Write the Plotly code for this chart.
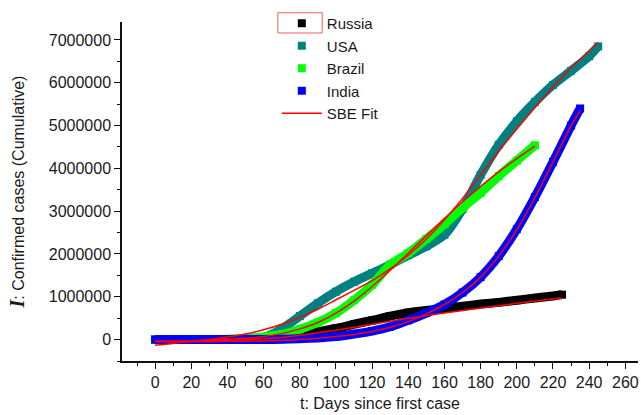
import numpy as np
import plotly.graph_objects as go

# ---- data (values in millions of cases) ----
days_russia = [0, 10, 20, 30, 40, 50, 60, 70, 80, 90, 100, 110, 120, 130, 140, 150, 160, 170, 180, 190, 200, 210, 220, 225]
russia = [0, 0, 0, 0, 0, 0, 0.01, 0.03, 0.10, 0.18, 0.26, 0.36, 0.45, 0.55, 0.63, 0.68, 0.73, 0.78, 0.83, 0.87, 0.92, 0.97, 1.02, 1.05]

days_usa = [0, 10, 20, 30, 40, 50, 60, 70, 80, 90, 100, 110, 120, 130, 140, 150, 160, 170, 180, 190, 200, 210, 220, 230, 240, 245]
usa = [0, 0, 0, 0, 0, 0.01, 0.05, 0.25, 0.55, 0.85, 1.12, 1.35, 1.55, 1.75, 1.97, 2.18, 2.45, 3.05, 3.85, 4.55, 5.10, 5.55, 5.95, 6.28, 6.62, 6.85]

days_brazil = [0, 10, 20, 30, 40, 50, 60, 70, 80, 90, 100, 110, 120, 130, 140, 150, 160, 170, 180, 190, 200, 210]
brazil = [0, 0, 0, 0, 0.01, 0.03, 0.06, 0.12, 0.24, 0.40, 0.62, 0.92, 1.28, 1.75, 2.02, 2.35, 2.70, 3.08, 3.43, 3.82, 4.18, 4.54]

days_india = [0, 10, 20, 30, 40, 50, 60, 70, 80, 90, 100, 110, 120, 130, 140, 150, 160, 170, 180, 190, 200, 210, 220, 230, 235]
india = [0, 0, 0, 0, 0, 0, 0, 0.01, 0.02, 0.04, 0.07, 0.13, 0.20, 0.30, 0.45, 0.62, 0.82, 1.10, 1.46, 1.95, 2.58, 3.33, 4.15, 5.00, 5.40]

# SBE fits
fit_russia = [-0.04, -0.04, -0.04, -0.03, -0.02, 0, 0.02, 0.05, 0.10, 0.16, 0.22, 0.29, 0.36, 0.43, 0.50, 0.56, 0.62, 0.68, 0.74, 0.79, 0.85, 0.90, 0.95, 0.97]
fit_usa = [-0.13, -0.09, -0.04, 0.0, 0.06, 0.13, 0.23, 0.36, 0.52, 0.71, 0.93, 1.15, 1.38, 1.65, 1.97, 2.35, 2.80, 3.30, 3.85, 4.40, 4.92, 5.42, 5.90, 6.35, 6.75, 6.94]
fit_brazil = [-0.04, -0.04, -0.03, -0.01, 0.01, 0.03, 0.07, 0.14, 0.25, 0.40, 0.62, 0.90, 1.24, 1.62, 2.02, 2.43, 2.83, 3.22, 3.58, 3.92, 4.23, 4.52]
fit_india = [-0.05, -0.05, -0.05, -0.05, -0.04, -0.04, -0.03, -0.02, 0.0, 0.03, 0.07, 0.12, 0.19, 0.29, 0.42, 0.60, 0.82, 1.10, 1.46, 1.95, 2.57, 3.32, 4.15, 5.00, 5.35]

x_ticks = list(range(0, 261, 20))
y_ticks = [0, 1000000, 2000000, 3000000, 4000000, 5000000, 6000000, 7000000]

series = [
    ("Russia", days_russia, russia, "#000000"),
    ("USA", days_usa, usa, "#008080"),
    ("Brazil", days_brazil, brazil, "#00FF00"),
    ("India", days_india, india, "#0000FF"),
]
fits = [
    (days_russia, fit_russia),
    (days_usa, fit_usa),
    (days_brazil, fit_brazil),
    (days_india, fit_india),
]

fig = go.Figure()
for name, d, v, c in series:
    y = np.array(v) * 1e6
    fig.add_trace(go.Scatter(x=d, y=y, mode="lines", line=dict(color=c, width=9, shape="spline", smoothing=0.6),
                             showlegend=False, legendgroup=name, hoverinfo="skip"))
    fig.add_trace(go.Scatter(x=d, y=y, mode="markers", name=name, legendgroup=name,
                             marker=dict(symbol="square", size=8, color=c, line=dict(width=0))))

for i, (d, v) in enumerate(fits):
    fig.add_trace(go.Scatter(x=d, y=np.array(v) * 1e6, mode="lines", name="SBE Fit",
                             line=dict(color="#FF0000", width=1.5, shape="spline", smoothing=0.6),
                             showlegend=(i == 0), legendgroup="fit"))

font_family = "Liberation Sans, Arial, sans-serif"
fig.update_layout(
    width=641, height=415,
    margin=dict(l=122, r=3, t=22, b=54, autoexpand=False),
    paper_bgcolor="white", plot_bgcolor="white",
    font=dict(family=font_family, size=16, color="#1a1a1a"),
    showlegend=True,
    legend=dict(x=0.30, y=1.044, xanchor="left", yanchor="top", itemwidth=40,
                bgcolor="rgba(0,0,0,0)", font=dict(size=15), tracegroupgap=0,
                traceorder="normal"),
    xaxis=dict(range=[-18.3, 267], tickmode="array", tickvals=x_ticks, automargin=False,
               showgrid=False, zeroline=False, showline=True, linecolor="#111", linewidth=1.5,
               ticks="outside", ticklen=6, tickwidth=1.2, tickcolor="#111",
               minor=dict(dtick=10, tick0=0, ticks="outside", ticklen=3, tickcolor="#111", tickwidth=1.2),
               title=dict(text="t: Days since first case", font=dict(size=16), standoff=8),
               tickfont=dict(size=16)),
    yaxis=dict(range=[-500000, 7420000], tickmode="array", tickvals=y_ticks, tickformat="d", automargin=False,
               showgrid=False, zeroline=False, showline=True, linecolor="#111", linewidth=1.5,
               ticks="outside", ticklen=6, tickwidth=1.2, tickcolor="#111",
               minor=dict(dtick=500000, tick0=0, ticks="outside", ticklen=3, tickcolor="#111", tickwidth=1.2),
               title=dict(text="<span style='font-family:Liberation Serif;font-size:20px'><b><i>I</i></b></span>: Confirmed cases (Cumulative)",
                          font=dict(size=16), standoff=20),
               tickfont=dict(size=16)),
    shapes=[dict(type="rect", xref="paper", yref="paper", x0=0.302, x1=0.388, y0=0.9676, y1=1.0274,
                 line=dict(color="#F06060", width=1))],
)

fig.write_html("out.html", config={"displayModeBar": False},
               post_script="document.body.style.margin='0';document.body.style.overflow='hidden';")
